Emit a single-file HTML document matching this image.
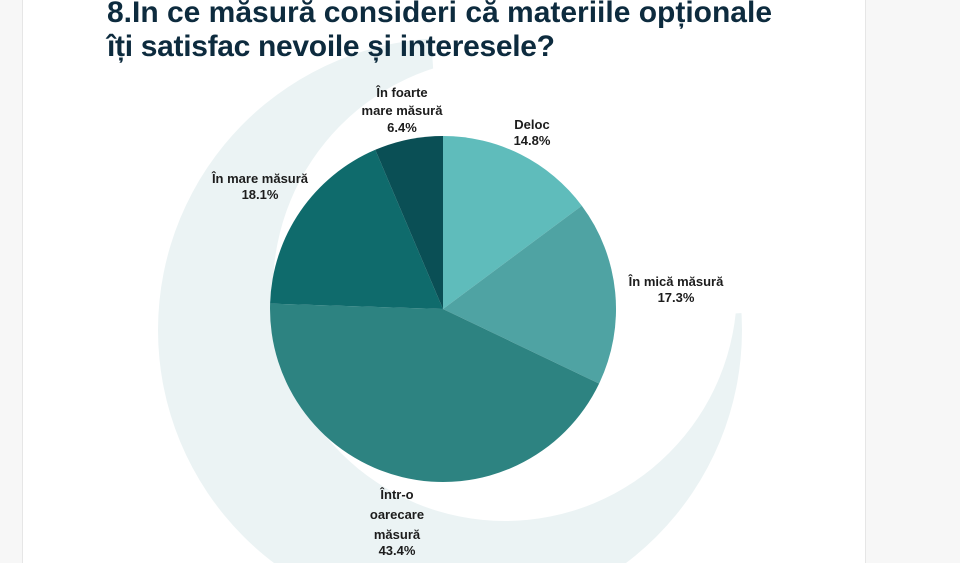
<!DOCTYPE html>
<html><head><meta charset="utf-8"><style>
html,body{margin:0;padding:0;}
body{width:960px;height:563px;overflow:hidden;background:#f7f7f7;position:relative;font-family:"Liberation Sans",sans-serif;}
.page{position:absolute;left:22px;top:0;width:842px;height:563px;background:#fff;border-left:1px solid #e6e6e6;border-right:1px solid #e6e6e6;}
svg{position:absolute;left:0;top:0;}
.t{font-weight:bold;fill:#0d2b3e;font-size:30px;}
.l{font-weight:bold;fill:#1c1c1c;font-size:13px;text-anchor:middle;}
</style></head><body>
<div class="page"></div>
<svg width="960" height="563" viewBox="0 0 960 563">
<path fill="#ebf3f4" fill-rule="evenodd" d="M158,330 a292,292 0 1,0 584,0 a292,292 0 1,0 -584,0 Z M273,289 a232,232 0 1,0 464,0 a232,232 0 1,0 -464,0 Z"/>
<polygon fill="#fff" points="450,330 430,20 760,20 760,312"/>
<text class="t" x="107" y="22" textLength="665">8.In ce măsură consideri că materiile opționale</text>
<text class="t" x="107" y="56" textLength="448">îți satisfac nevoile și interesele?</text>
<g transform="translate(443,309)">
<path fill="#5fbcbb" d="M0,0 L0,-173 A173,173 0 0,1 138.8,-103.3 Z"/>
<path fill="#4fa3a3" d="M0,0 L138.8,-103.3 A173,173 0 0,1 156.1,74.6 Z"/>
<path fill="#2d8381" d="M0,0 L156.1,74.6 A173,173 0 0,1 -172.9,-5.4 Z"/>
<path fill="#0f6b6c" d="M0,0 L-172.9,-5.4 A173,173 0 0,1 -67.7,-159.2 Z"/>
<path fill="#0a4f55" d="M0,0 L-67.7,-159.2 A173,173 0 0,1 0,-173 Z"/>
</g>
<text class="l" x="402" y="97">În foarte</text>
<text class="l" x="402" y="115">mare măsură</text>
<text class="l" x="402" y="132">6.4%</text>
<text class="l" x="532" y="129">Deloc</text>
<text class="l" x="532" y="145">14.8%</text>
<text class="l" x="676" y="286">În mică măsură</text>
<text class="l" x="676" y="302">17.3%</text>
<text class="l" x="260" y="183">În mare măsură</text>
<text class="l" x="260" y="199">18.1%</text>
<text class="l" x="397" y="499">Într-o</text>
<text class="l" x="397" y="519">oarecare</text>
<text class="l" x="397" y="539">măsură</text>
<text class="l" x="397" y="555">43.4%</text>
</svg>
</body></html>
